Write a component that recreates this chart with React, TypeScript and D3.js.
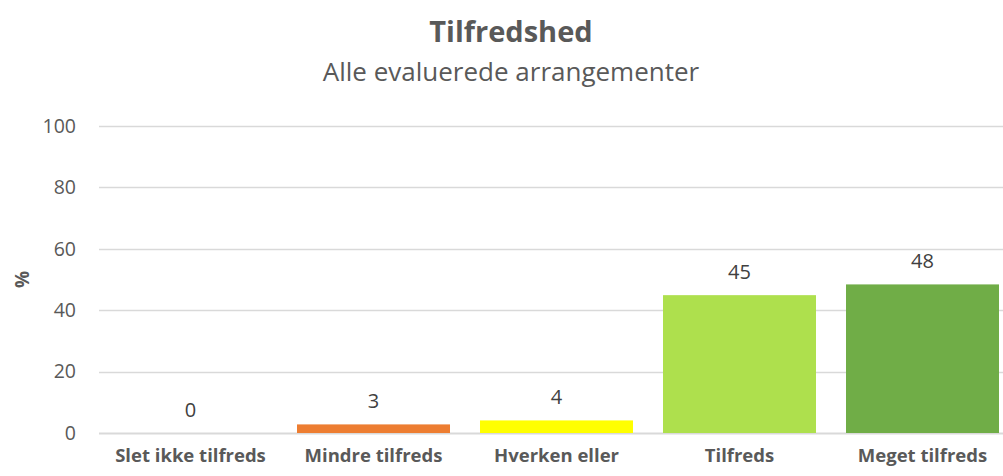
import React, { useEffect, useRef } from 'react';
import * as d3 from 'd3';

const categories = ['Slet ikke tilfreds', 'Mindre tilfreds', 'Hverken eller', 'Tilfreds', 'Meget tilfreds'];
const values = [0, 2.8, 4.1, 44.9, 48.4];
const barColors = ['#A5A5A5', '#ED7D31', '#FFFF00', '#AEE04D', '#70AD47'];
const yTicks = [0, 20, 40, 60, 80, 100];

const App = () => {
  const chartRef = useRef<HTMLDivElement>(null);

  useEffect(() => {
    document.body.style.margin = '0';
    const width = 1003;
    const height = 476;
    const margin = { top: 126, right: -11, bottom: 43, left: 99 };
    const font = "'Open Sans', sans-serif";
    const textColor = '#595959';

    const x = d3.scaleBand<string>()
      .domain(categories)
      .range([margin.left, width - margin.right])
      .paddingInner(0.164)
      .paddingOuter(0.082);

    const y = d3.scaleLinear()
      .domain([0, 100])
      .range([height - margin.bottom, margin.top]);

    d3.select(chartRef.current).selectAll('*').remove();

    const svg = d3.select(chartRef.current)
      .append('svg')
      .attr('width', width)
      .attr('height', height)
      .style('display', 'block')
      .style('font-family', font);

    // gridlines
    svg.append('g')
      .selectAll('line')
      .data(yTicks)
      .join('line')
      .attr('x1', margin.left)
      .attr('x2', width)
      .attr('y1', d => Math.round(y(d)) + 0.5)
      .attr('y2', d => Math.round(y(d)) + 0.5)
      .attr('stroke', '#D9D9D9')
      .attr('stroke-width', d => (d === 0 ? 2 : 1.5));

    // tick labels
    svg.append('g')
      .selectAll('text')
      .data(yTicks)
      .join('text')
      .attr('x', 76)
      .attr('y', d => y(d))
      .attr('dy', '0.35em')
      .attr('text-anchor', 'end')
      .attr('font-size', 19.5)
      .attr('fill', textColor)
      .text(d => d);

    // bars
    svg.append('g')
      .selectAll('rect')
      .data(values)
      .join('rect')
      .attr('x', (d, i) => x(categories[i])!)
      .attr('width', x.bandwidth())
      .attr('y', d => y(d))
      .attr('height', d => y(0) - y(d))
      .attr('fill', (d, i) => barColors[i]);

    // value labels
    svg.append('g')
      .selectAll('text')
      .data(values)
      .join('text')
      .attr('x', (d, i) => x(categories[i])! + x.bandwidth() / 2)
      .attr('y', d => y(d) - 16)
      .attr('text-anchor', 'middle')
      .attr('font-size', 20)
      .attr('fill', '#404040')
      .text(d => d3.format('.0f')(d));

    // category labels
    svg.append('g')
      .selectAll('text')
      .data(categories)
      .join('text')
      .attr('x', d => x(d)! + x.bandwidth() / 2)
      .attr('y', 462)
      .attr('text-anchor', 'middle')
      .attr('font-size', 18.5)
      .attr('font-weight', 'bold')
      .attr('fill', textColor)
      .text(d => d);

    // y axis title
    svg.append('text')
      .attr('transform', `translate(29, ${(y(0) + y(100)) / 2}) rotate(-90)`)
      .attr('text-anchor', 'middle')
      .attr('font-size', 19)
      .attr('font-weight', 'bold')
      .attr('fill', textColor)
      .text('%');

    // titles
    svg.append('text')
      .attr('x', 511)
      .attr('y', 42)
      .attr('text-anchor', 'middle')
      .attr('font-size', 29)
      .attr('font-weight', 'bold')
      .attr('fill', textColor)
      .text('Tilfredshed');

    svg.append('text')
      .attr('x', 511)
      .attr('y', 81)
      .attr('text-anchor', 'middle')
      .attr('font-size', 26)
      .attr('fill', textColor)
      .text('Alle evaluerede arrangementer');
  }, []);

  return <div ref={chartRef}></div>;
};

export default App;
